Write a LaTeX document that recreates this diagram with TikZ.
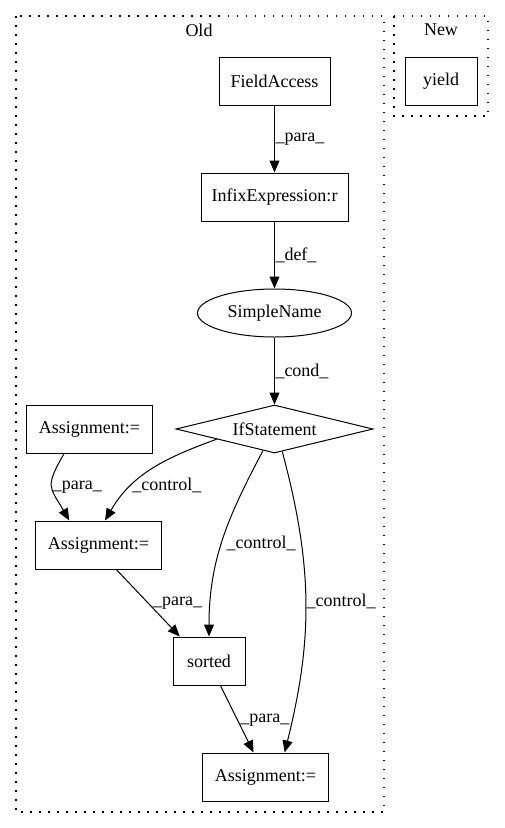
\documentclass[tikz,border=0pt]{standalone}
\usepackage{fontspec}
\setmainfont{Liberation Serif}
\usetikzlibrary{arrows.meta,shapes.geometric}
\tikzset{%
	box/.style     = {draw, rectangle, minimum height=48pt, inner sep=0pt, line width=1pt, text centered},
	varname/.style = {draw, ellipse, minimum width=154pt, minimum height=48pt, inner sep=0pt, line width=1pt},
	cond/.style    = {draw, diamond, aspect=4.1, minimum width=197pt, minimum height=48pt, inner sep=0pt, line width=1pt},
	arrow/.style   = {line width=1pt, -{Triangle[length=12pt,width=10pt]}},
	lbl/.style     = {anchor=west, inner sep=0.5pt},
	cluster/.style = {line width=1.2pt, dash pattern=on 1.5pt off 7.5pt},
}
\begin{document}
\begin{tikzpicture}[x=1pt,y=1pt,font=\fontsize{18}{21}\selectfont]
	\useasboundingbox (0,0) rectangle (504,-828);
	% clusters
	\draw[cluster] (16,-16) rectangle (384,-812);
	\draw[cluster] (394,-16) rectangle (488,-116);
	\node (old) at (199,-30) {Old};
	\node (new) at (441,-30) {New};
	
	\node[box, minimum width=111pt] (field) at (274.5,-81) {FieldAccess};
	\node[box, minimum width=72pt] (yield) at (441,-81) {yield};
	\node[box, minimum width=147pt] (infix) at (274.5,-197) {InfixExpression:r};
	\node[varname] (simple) at (274.5,-313) {SimpleName};
	\node[cond] (if) at (274.5,-429) {IfStatement};
	\node[box, minimum width=125.5pt] (asgA) at (89.5,-429) {Assignment:=};
	\node[box, minimum width=125.5pt] (asgB) at (98.5,-545) {Assignment:=};
	\node[box, minimum width=72pt] (sorted) at (209,-661) {sorted};
	\node[box, minimum width=125.5pt] (asgC) at (265.5,-777) {Assignment:=};
	
	\draw[arrow] (field) -- (infix) node[lbl, pos=0.5] {\_para\_};
	\draw[arrow] (infix) -- (simple) node[lbl, pos=0.5] {\_def\_};
	\draw[arrow] (simple) -- (if) node[lbl, pos=0.5] {\_cond\_};
	
	\draw[arrow] (asgA.224) to[out=240, in=120, looseness=1.5] node[lbl, pos=0.5] {\_para\_} (asgB.140);
	\draw[arrow] (if.190) to[out=200, in=60] node[lbl, pos=0.7] {\_control\_} (asgB.75);
	\draw[arrow] (if.242) to[out=242, in=90] node[lbl, pos=0.52, xshift=4pt] {\_control\_} (sorted.north);
	\draw[arrow] (if.289) to[out=-75, in=76] node[lbl, pos=0.5] {\_control\_} (asgC.52);
	\draw[arrow] (asgB.-54) -- (sorted.140) node[lbl, pos=0.5, xshift=4pt] {\_para\_};
	\draw[arrow] (sorted.-65) -- (asgC.116) node[lbl, pos=0.51, xshift=2pt] {\_para\_};
\end{tikzpicture}
\end{document}
